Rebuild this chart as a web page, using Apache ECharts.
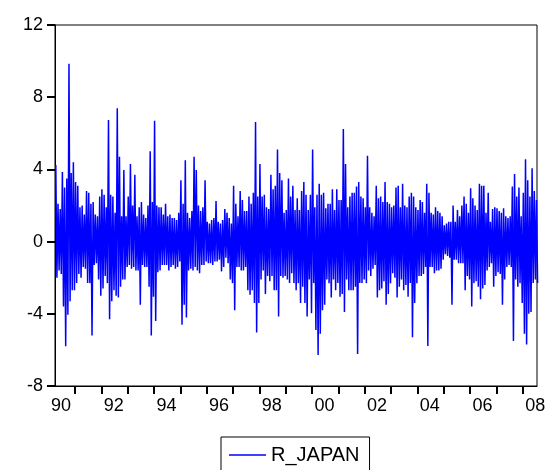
<!DOCTYPE html>
<html><head><meta charset="utf-8">
<script src="https://cdn.jsdelivr.net/npm/echarts@6/dist/echarts.min.js"></script>
<style>html,body{margin:0;padding:0;background:#fff}#c{width:559px;height:470px}</style>
</head><body><div id="c"></div>
<script>
// ---- Data ----
const seriesName = 'R_JAPAN';
const yTickValues = [-8, -4, 0, 4, 8, 12];
const xTickYears = [1991,1992,1993,1994,1995,1996,1997,1998,1999,2000,2001,2002,2003,2004,2005,2006,2007,2008];
const xLabelYears = [1990,1992,1994,1996,1998,2000,2002,2004,2006,2008];
const firstYear = 1990;
const firstMonth = 3; // sample starts in April 1990
// Per month: [high, low] pairs of the daily returns
const r1990 = [4.25,-2.0, 2.1,-1.6, 1.8,-1.8, 3.85,-3.6, 3.0,-5.8, 3.5,-4.05, 9.85,-3.3, 3.8,-2.7, 4.4,-2.7];
const r1991 = [3.3,-2.3, 3.1,-1.8, 1.9,-2.0, 2.0,-1.4, 1.5,-1.5, 2.8,-2.3, 2.7,-2.3, 2.1,-5.2, 2.2,-1.3, 1.5,-1.2, 1.4,-2.1, 2.5,-3.0];
const r1992 = [2.9,-2.6, 2.6,-1.9, 1.9,-2.3, 6.74,-4.3, 2.6,-3.3, 2.5,-2.7, 1.6,-3.0, 7.39,-3.1, 4.7,-2.5, 1.4,-2.1, 3.97,-2.1, 1.4,-1.4];
const r1993 = [2.5,-1.3, 4.3,-1.5, 2.0,-1.4, 3.7,-1.6, 1.4,-1.6, 1.9,-3.5, 2.2,-1.3, 1.5,-1.4, 1.3,-1.4, 2.0,-2.5, 5.0,-5.2, 2.2,-3.05];
const r1994 = [6.7,-4.4, 2.0,-1.7, 1.9,-1.6, 1.9,-1.3, 1.5,-1.3, 2.1,-1.3, 1.4,-1.6, 1.5,-1.4, 1.3,-1.3, 1.3,-1.5, 1.2,-1.4, 1.6,-1.1];
const r1995 = [3.4,-4.6, 2.1,-3.5, 4.5,-4.2, 1.6,-1.6, 1.3,-1.5, 1.7,-1.6, 4.7,-1.4, 3.97,-1.6, 2.0,-1.75, 1.7,-1.3, 1.9,-1.3, 3.4,-1.1];
const r1996 = [1.1,-1.2, 1.0,-1.2, 1.2,-1.3, 1.3,-1.1, 2.25,-1.1, 1.1,-1.0, 1.0,-1.65, 1.2,-1.4, 1.8,-0.9, 1.6,-1.2, 1.3,-2.1, 1.0,-2.3];
const r1997 = [3.1,-3.8, 2.1,-1.4, 1.4,-1.4, 2.8,-1.6, 2.3,-1.6, 1.7,-1.4, 1.7,-2.7, 2.5,-2.95, 2.1,-2.7, 2.7,-3.4, 6.63,-5.04, 2.5,-3.4];
const r1998 = [4.3,-2.1, 2.5,-1.6, 2.6,-2.9, 1.9,-1.9, 1.8,-2.2, 3.7,-1.9, 2.9,-2.7, 3.1,-2.7, 5.1,-4.15, 3.8,-1.9, 3.4,-2.0, 1.6,-1.9];
const r1999 = [1.75,-2.1, 3.5,-2.3, 2.5,-1.75, 3.1,-2.3, 1.75,-2.7, 2.4,-2.3, 1.75,-3.4, 2.8,-2.5, 3.3,-3.4, 2.6,-4.15, 1.75,-2.1, 2.6,-3.97];
const r2000 = [5.1,-2.3, 1.9,-4.9, 2.6,-6.28, 3.2,-5.1, 2.6,-3.8, 2.7,-3.5, 1.85,-2.1, 2.1,-2.3, 2.1,-3.1, 2.9,-2.1, 1.75,-2.7, 2.9,-2.3];
const r2001 = [2.3,-3.05, 2.3,-2.9, 6.24,-3.9, 4.3,-2.1, 1.9,-2.7, 2.5,-2.7, 2.7,-2.7, 2.7,-2.5, 3.05,-6.22, 3.3,-2.3, 2.5,-2.3, 2.4,-2.1];
const r2002 = [1.9,-2.3, 4.75,-1.6, 1.9,-1.9, 1.6,-1.5, 1.4,-1.3, 3.1,-3.1, 2.4,-2.7, 2.5,-2.6, 2.2,-2.2, 3.3,-3.5, 2.2,-2.9, 2.1,-2.3];
const r2003 = [1.9,-1.75, 2.0,-2.0, 3.0,-3.1, 3.1,-2.5, 1.9,-2.1, 3.2,-2.7, 2.0,-2.4, 1.9,-3.05, 2.5,-2.3, 2.7,-5.3, 2.5,-3.4, 1.9,-2.3];
const r2004 = [1.75,-1.9, 2.3,-1.9, 2.2,-1.8, 1.6,-1.4, 3.2,-5.78, 2.7,-1.4, 1.6,-1.4, 1.5,-1.75, 1.9,-1.6, 1.7,-1.6, 1.6,-1.5, 1.4,-1.0];
const r2005 = [0.9,-0.7, 1.0,-0.8, 1.1,-0.9, 1.1,-3.5, 2.0,-1.0, 1.1,-1.0, 1.75,-1.2, 1.4,-1.2, 2.0,-1.2, 2.5,-2.7, 2.1,-1.9, 1.6,-2.1];
const r2006 = [2.95,-3.6, 2.4,-2.3, 2.0,-2.2, 1.75,-2.5, 3.2,-3.2, 3.1,-2.6, 3.1,-2.4, 1.6,-1.6, 2.7,-1.4, 1.1,-1.2, 1.8,-2.5, 1.9,-1.9];
const r2007 = [1.85,-1.7, 1.7,-1.8, 1.6,-3.5, 1.85,-2.1, 1.4,-1.4, 1.3,-1.3, 1.4,-1.4, 3.05,-5.5, 3.75,-2.1, 2.5,-2.5, 3.0,-2.3, 1.4,-3.4];
const r2008 = [2.7,-5.1, 4.56,-5.7, 3.4,-4.0, 2.5,-3.9, 4.06,-2.3, 2.8,-2.1, 2.3,-2.3];

const yearly = [r1990,r1991,r1992,r1993,r1994,r1995,r1996,r1997,r1998,r1999,r2000,r2001,r2002,r2003,r2004,r2005,r2006,r2007,r2008];

// time index (fractional years) for each reading
const points = [];
yearly.forEach((arr, yi) => {
  const y = firstYear + yi;
  const m0 = yi === 0 ? firstMonth : 0;
  for (let k = 0; k < arr.length / 2; k++) {
    const m = m0 + k;
    points.push([y + (m + 0.25) / 12, arr[2 * k]]);
    points.push([y + (m + 0.75) / 12, arr[2 * k + 1]]);
  }
});

const font = 'Liberation Sans, Arial, sans-serif';
const chart = echarts.init(document.getElementById('c'));
chart.setOption({
  animation: false,
  grid: {left: 55, right: 22, top: 25, bottom: 84, show: true, borderColor: '#000', borderWidth: 1},
  xAxis: {
    type: 'value', min: 1990.24, max: 2008.54,
    axisLine: {show: true, onZero: false, lineStyle: {color: '#000', width: 1}},
    axisTick: {show: true, length: 8, lineStyle: {color: '#000', width: 2}, customValues: xTickYears},
    axisLabel: {margin: 11, color: '#000', fontSize: 18, fontFamily: font,
      customValues: xLabelYears.map(v => v + 0.47),
      formatter: v => String(Math.round(v - 0.47) % 100).padStart(2, '0')},
    splitLine: {show: false}
  },
  yAxis: {
    type: 'value', min: yTickValues[0], max: yTickValues[yTickValues.length - 1], interval: 4,
    axisLine: {show: true, onZero: false, lineStyle: {color: '#000', width: 1}},
    axisTick: {show: true, length: 8, lineStyle: {color: '#000', width: 2}},
    axisLabel: {margin: 12, color: '#000', fontSize: 18, fontFamily: font},
    splitLine: {show: false}
  },
  legend: {
    data: [{name: seriesName, icon: 'path://M0,0L37,0L37,1.3L0,1.3Z'}], left: 221, top: 437, orient: 'horizontal',
    itemWidth: 37, itemHeight: 20, padding: [8, 10, 14, 8], symbolKeepAspect: true,
    borderColor: '#000', borderWidth: 1, borderRadius: 0,
    itemStyle: {color: '#0000ff', borderWidth: 0},
    textStyle: {color: '#000', fontSize: 20, fontFamily: font}
  },
  series: [{
    name: seriesName, type: 'line', data: points,
    symbol: 'none', showSymbol: false, silent: true,
    lineStyle: {color: '#0000ff', width: 1.5}, itemStyle: {color: '#0000ff'}
  }]
});
</script></body></html>
